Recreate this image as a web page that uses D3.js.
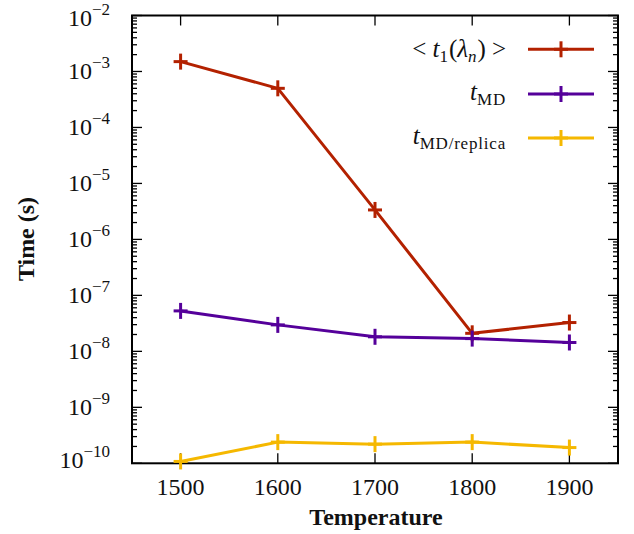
<!DOCTYPE html>
<html><head><meta charset="utf-8">
<script src="https://cdn.jsdelivr.net/npm/d3@7/dist/d3.min.js"></script>
</head>
<body style="margin:0;background:#fff"><svg id="c" width="634" height="534"></svg>
<script>
const temperatures = [1500, 1600, 1700, 1800, 1900];
const tLambda = [1.5e-3, 5.0e-4, 3.36e-6, 2.1e-8, 3.27e-8];
const tMD = [5.28e-8, 2.97e-8, 1.82e-8, 1.69e-8, 1.44e-8];
const tMDreplica = [1.08e-10, 2.39e-10, 2.2e-10, 2.39e-10, 1.91e-10];
const xTicks = [1500, 1600, 1700, 1800, 1900];
const yExponents = [-2, -3, -4, -5, -6, -7, -8, -9, -10];
const seriesNames = ["lambda", "md", "replica"];
const seriesColors = ["#b32100", "#55009a", "#f5b800"];

const FF = "'Liberation Serif', 'DejaVu Serif', serif";
const svg = d3.select("#c");
const L = 132, R = 618, T = 15.5, B = 463.3;
const x = d3.scaleLinear().domain([1450, 1950]).range([L, R]);
const y = d3.scaleLog().domain([1e-10, 1e-2]).range([B, T]);

const series = [tLambda, tMD, tMDreplica];

function txt(sel, size) {
  return sel.append("text").attr("font-family", "Liberation Serif").style("font-family", FF)
    .style("font-size", size + "px").attr("fill", "#111");
}

// ticks
const g = svg.append("g").attr("stroke", "#000").attr("stroke-width", 1.3);
xTicks.forEach(t => {
  g.append("line").attr("x1", x(t)).attr("x2", x(t)).attr("y1", B).attr("y2", B - 10);
  g.append("line").attr("x1", x(t)).attr("x2", x(t)).attr("y1", T).attr("y2", T + 10);
});
for (let e = -10; e <= -2; e++) {
  const v = Math.pow(10, e);
  g.append("line").attr("x1", L).attr("x2", L + 10).attr("y1", y(v)).attr("y2", y(v));
  g.append("line").attr("x1", R).attr("x2", R - 10).attr("y1", y(v)).attr("y2", y(v));
  if (e < -2) {
    for (let m = 2; m <= 9; m++) {
      const mv = m * v;
      g.append("line").attr("x1", L).attr("x2", L + 5).attr("y1", y(mv)).attr("y2", y(mv));
      g.append("line").attr("x1", R).attr("x2", R - 5).attr("y1", y(mv)).attr("y2", y(mv));
    }
  }
}
svg.append("rect").attr("x", L).attr("y", T).attr("width", R - L).attr("height", B - T)
  .attr("fill", "none").attr("stroke", "#000").attr("stroke-width", 2);

// tick labels
xTicks.forEach(t => {
  txt(svg, 24).attr("x", x(t)).attr("y", B + 32).attr("text-anchor", "middle").text(t);
});
yExponents.forEach(e => {
  let yy = y(Math.pow(10, e)) + 8;
  if (e === -10) yy -= 3;
  if (e === -2) yy += 2;
  const tx = txt(svg, 24).attr("x", 110).attr("y", yy).attr("text-anchor", "end");
  tx.append("tspan").text("10");
  tx.append("tspan").attr("dy", -11).style("font-size", "17px").text("\u2212" + (-e));
});

// axis titles
txt(svg, 24).attr("x", 376).attr("y", 525).attr("text-anchor", "middle")
  .style("font-weight", "bold").text("Temperature");
txt(svg, 24).attr("transform", "translate(34,239) rotate(-90)").attr("text-anchor", "middle")
  .style("font-weight", "bold").text("Time (s)");

// series
const line = d3.line().x((d, i) => x(temperatures[i])).y(d => y(d));
function cross(sel, cx, cy, color) {
  sel.append("line").attr("x1", cx - 7).attr("x2", cx + 7).attr("y1", cy).attr("y2", cy)
    .attr("stroke", color).attr("stroke-width", 3);
  sel.append("line").attr("x1", cx).attr("x2", cx).attr("y1", cy - 8).attr("y2", cy + 8)
    .attr("stroke", color).attr("stroke-width", 3);
}
series.forEach((s, k) => {
  const gg = svg.append("g").attr("class", seriesNames[k]);
  gg.append("path").datum(s).attr("d", line).attr("fill", "none")
    .attr("stroke", seriesColors[k]).attr("stroke-width", 3).attr("stroke-linejoin", "round");
  s.forEach((d, i) => cross(gg, x(temperatures[i]), y(d), seriesColors[k]));
});

// legend
const legY = [49.3, 94, 138];
const lg = svg.append("g");
legY.forEach((ly, k) => {
  lg.append("line").attr("x1", 528).attr("x2", 594).attr("y1", ly).attr("y2", ly)
    .attr("stroke", seriesColors[k]).attr("stroke-width", 3);
  cross(lg, 561, ly, seriesColors[k]);
});
function ltext(yy) {
  return txt(lg, 25).attr("x", 506).attr("y", yy).attr("text-anchor", "end");
}
// label 1: <t1(λn)>
let t1 = ltext(legY[0] + 8);
t1.append("tspan").text("<");
t1.append("tspan").style("font-style", "italic").attr("dx", 6).text("t");
t1.append("tspan").style("font-size", "17px").attr("dy", 5).text("1");
t1.append("tspan").attr("dy", -5).attr("dx", 1).text("(");
t1.append("tspan").style("font-style", "italic").text("\u03bb");
t1.append("tspan").style("font-size", "17px").style("font-style", "italic").attr("dy", 5).text("n");
t1.append("tspan").attr("dy", -5).attr("dx", 1).text(")");
t1.append("tspan").attr("dx", 6).text(">");
// label 2: t_MD
let t2 = ltext(legY[1] + 6);
t2.append("tspan").style("font-style", "italic").text("t");
t2.append("tspan").style("font-size", "17px").style("letter-spacing", "0.8px").attr("dy", 5).text("MD");
// label 3: t_MD/replica
let t3 = ltext(legY[2] + 6);
t3.append("tspan").style("font-style", "italic").text("t");
t3.append("tspan").style("font-size", "17px").style("letter-spacing", "0.8px").attr("dy", 5).text("MD/replica");
</script></body></html>
